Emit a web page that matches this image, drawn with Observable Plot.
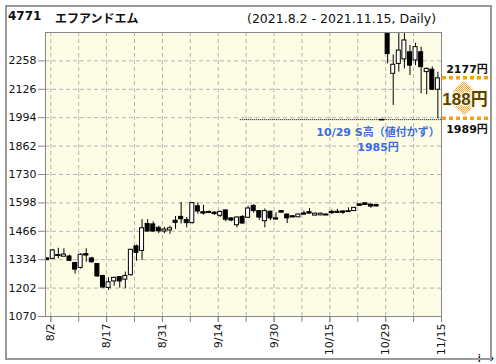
<!DOCTYPE html>
<html><head><meta charset="utf-8">
<script src="https://cdn.jsdelivr.net/npm/d3@7"></script>
<script src="https://cdn.jsdelivr.net/npm/@observablehq/plot@0.6"></script>
<style>
body{margin:0;background:#fff;}
#wrap{position:relative;width:496px;height:364px;overflow:hidden;background:#fff;}
#chart{position:absolute;left:0;top:0;}
#border{position:absolute;left:5px;top:5px;width:487px;height:355px;border:2px solid #999;box-sizing:border-box;pointer-events:none;}
.t{position:absolute;white-space:nowrap;line-height:14px;color:#111;}
</style></head><body>
<div id="wrap">
<div id="chart"></div>
<div id="border"></div>
<div class="t" style="left:8px;top:9px;font:bold 12px 'DejaVu Sans';">4771</div>
<div class="t" style="left:55px;top:9px;font:bold 12px 'Noto Sans CJK JP';">エフアンドエム</div>
<div class="t" style="left:247px;top:11px;font:12.5px 'DejaVu Sans';">(2021.8.2 - 2021.11.15, Daily)</div>
</div>
<script>
// ---- data (one entry per trading day, 2021/8/2 .. 2021/11/15) ----
const open  = [1340,1338,1352,1348,1349,1318,1296,1360,1340,1314,1258,1203,1233,1253,1241,1262,1396,1375,1500,1498,
               1482,1465,1470,1515,1533,1518,1504,1582,1555,1556,1553,1538,1563,1526,1494,1533,1529,1584,1560,1513,
               1557,1526,1560,1544,1536,1531,1549,1555,1539,1540,1544,1556,1557,1558,1557,1560,1591,1596,1590,1588,
               1985,2385,2198,2244,2265,2298,2260,2298,2206,2217,2124];
const high  = [1342,1382,1387,1385,1355,1322,1362,1385,1345,1316,1262,1250,1252,1255,1276,1382,1402,1520,1520,1510,
               1490,1484,1490,1535,1600,1530,1600,1598,1587,1560,1556,1560,1565,1528,1533,1538,1582,1590,1562,1570,
               1560,1552,1562,1546,1537,1545,1560,1572,1550,1550,1545,1565,1568,1562,1575,1577,1593,1598,1592,1590,
               1985,2385,2286,2385,2390,2330,2340,2322,2225,2230,2205];
const low   = [1330,1335,1338,1346,1325,1267,1290,1322,1318,1254,1200,1191,1210,1202,1199,1258,1327,1330,1462,1462,
               1455,1455,1452,1475,1500,1482,1500,1545,1541,1548,1540,1530,1510,1510,1482,1500,1525,1550,1517,1482,
               1515,1522,1555,1502,1533,1530,1540,1545,1538,1539,1542,1545,1548,1545,1556,1558,1586,1590,1573,1583,
               1985,2244,2051,2206,2221,2190,2236,2105,2100,2120,1989];
const close = [1332,1377,1355,1358,1329,1288,1357,1357,1322,1256,1205,1229,1250,1233,1258,1380,1366,1480,1465,1465,
               1466,1474,1480,1505,1522,1504,1597,1558,1552,1551,1546,1556,1520,1516,1530,1502,1572,1560,1530,1560,
               1526,1524,1556,1526,1534,1544,1547,1552,1548,1548,1543,1554,1555,1552,1559,1575,1588,1592,1581,1585,
               1985,2290,2240,2306,2353,2236,2322,2229,2221,2124,2177];
const tickLabels = ["8/2","8/17","8/31","9/14","9/30","10/15","10/29","11/15"];
const labelIdx   = [0,10,20,30,40,50,60,70];
const gridIdx    = [0,5,10,15,20,25,30,35,40,45,50,55,60,65,70];
const yTicks     = [1070,1202,1334,1466,1598,1730,1862,1994,2126,2258];
const stopHigh   = {idx: 60, price: 1985, fromIdx: 34.6, label: "10/29 S高（値付かず）", priceLabel: "1985円"};
const rangeHigh = 2177, rangeLow = 1989;

const data = open.map((o, i) => ({i, o, h: high[i], l: low[i], c: close[i]}));
const tOff = 0.65;   // tick sits a little right of the candle centre
const hw = 0.36;     // half body width (in days)
const FONT = "'DejaVu Sans','Noto Sans CJK JP',sans-serif";

const chart = Plot.plot({
  width: 496, height: 364,
  marginLeft: 45, marginRight: 55, marginTop: 32, marginBottom: 48,
  x: {domain: [-0.3, 70.65], axis: null},
  y: {domain: [1070, 2390], axis: null},
  style: {fontFamily: FONT, fontSize: "11px", background: "transparent", color: "#111"},
  marks: [
    Plot.frame({fill: "#fdfde6"}),
    Plot.ruleX(gridIdx, {x: d => d + tOff, stroke: "#b4b4b4", strokeDasharray: "4,3"}),
    Plot.ruleY(yTicks.slice(1), {stroke: "#b4b4b4", strokeDasharray: "4,3"}),
    Plot.ruleY([stopHigh.price], {x1: stopHigh.fromIdx, x2: 70.65, stroke: "#000", strokeDasharray: "1,1"}),
    Plot.ruleX(data, {x: "i", y1: "l", y2: "h", stroke: "#000", strokeWidth: 1, clip: true}),
    Plot.rect(data, {x1: d => d.i - hw, x2: d => d.i + hw, y1: "o", y2: "c",
      fill: d => d.c >= d.o ? "#fff" : "#000", stroke: "#000", strokeWidth: 1, clip: true}),
    Plot.ruleY(data.filter(d => Math.abs(d.o - d.c) < 5),
      {y: "c", x1: d => d.i - hw - 0.1, x2: d => d.i + hw + 0.1, stroke: "#000", strokeWidth: 1.6}),
    Plot.frame({stroke: "#888"}),
    Plot.axisY(yTicks, {tickSize: 7, tickPadding: 2, stroke: "#888", fill: "#111", fontSize: 11, tickFormat: d => String(d)}),
    Plot.axisX(gridIdx.map(d => d + tOff), {tickSize: 6, tickFormat: () => "", stroke: "#888"}),
    Plot.axisX(labelIdx.map(d => d + tOff), {tickSize: 6, tickPadding: 1, tickRotate: -90, stroke: "#888", fill: "#111", fontSize: 11,
      tickFormat: (d, k) => tickLabels[k]}),
    Plot.text([stopHigh.label], {x: stopHigh.idx, y: stopHigh.price, dx: -4, dy: 13, fill: "#3d6be0", fontWeight: "bold", fontSize: 11}),
    Plot.text([stopHigh.priceLabel], {x: stopHigh.idx, y: stopHigh.price, dx: -4, dy: 28, fill: "#3d6be0", fontWeight: "bold", fontSize: 11})
  ]
});
document.getElementById("chart").appendChild(chart);

// right-hand range annotation
const svg = d3.select(chart);
const ys = chart.scale("y");
const yH = ys.apply(rangeHigh), yL = ys.apply(rangeLow);
const xR = 496 - 55;
const cx = xR + 23;
const defs = svg.append("defs");
const pat = defs.append("pattern").attr("id", "stip").attr("width", 2).attr("height", 2).attr("patternUnits", "userSpaceOnUse");
pat.append("rect").attr("x", 0).attr("y", 0).attr("width", 1).attr("height", 1).attr("fill", "#f3a020");
pat.append("rect").attr("x", 1).attr("y", 1).attr("width", 1).attr("height", 1).attr("fill", "#f3a020");
const t1 = yH + 3, t2 = yL - 3, hh = 11, hwA = 12, sw = 7;
svg.append("path").attr("fill", "url(#stip)")
  .attr("d", `M${cx},${t1} L${cx + hwA},${t1 + hh} L${cx + sw},${t1 + hh} L${cx + sw},${t2 - hh} L${cx + hwA},${t2 - hh} L${cx},${t2} L${cx - hwA},${t2 - hh} L${cx - sw},${t2 - hh} L${cx - sw},${t1 + hh} L${cx - hwA},${t1 + hh} Z`);
for (const yv of [yH, yL]) {
  svg.append("line").attr("x1", xR + 1).attr("x2", xR + 47).attr("y1", yv).attr("y2", yv)
    .attr("stroke", "#f5a00f").attr("stroke-width", 3.5).attr("stroke-dasharray", "4,3");
}
svg.append("text").attr("x", cx + 3).attr("y", yH - 8).attr("text-anchor", "middle").attr("dominant-baseline", "central")
  .attr("font-family", FONT).attr("font-weight", "bold").attr("font-size", 11).attr("fill", "#111").text(rangeHigh + "円");
svg.append("text").attr("x", cx + 3).attr("y", yL + 11).attr("text-anchor", "middle").attr("dominant-baseline", "central")
  .attr("font-family", FONT).attr("font-weight", "bold").attr("font-size", 11).attr("fill", "#111").text(rangeLow + "円");
svg.append("text").attr("x", cx + 1).attr("y", (yH + yL) / 2 + 1).attr("text-anchor", "middle").attr("dominant-baseline", "central")
  .attr("font-family", "'Liberation Sans','Noto Sans CJK JP',sans-serif").attr("font-weight", "bold").attr("font-size", 17)
  .attr("fill", "#5a4600").attr("stroke", "#fff6d8").attr("stroke-width", 2.5).attr("paint-order", "stroke")
  .text((rangeHigh - rangeLow) + "円");
</script>
</body></html>
